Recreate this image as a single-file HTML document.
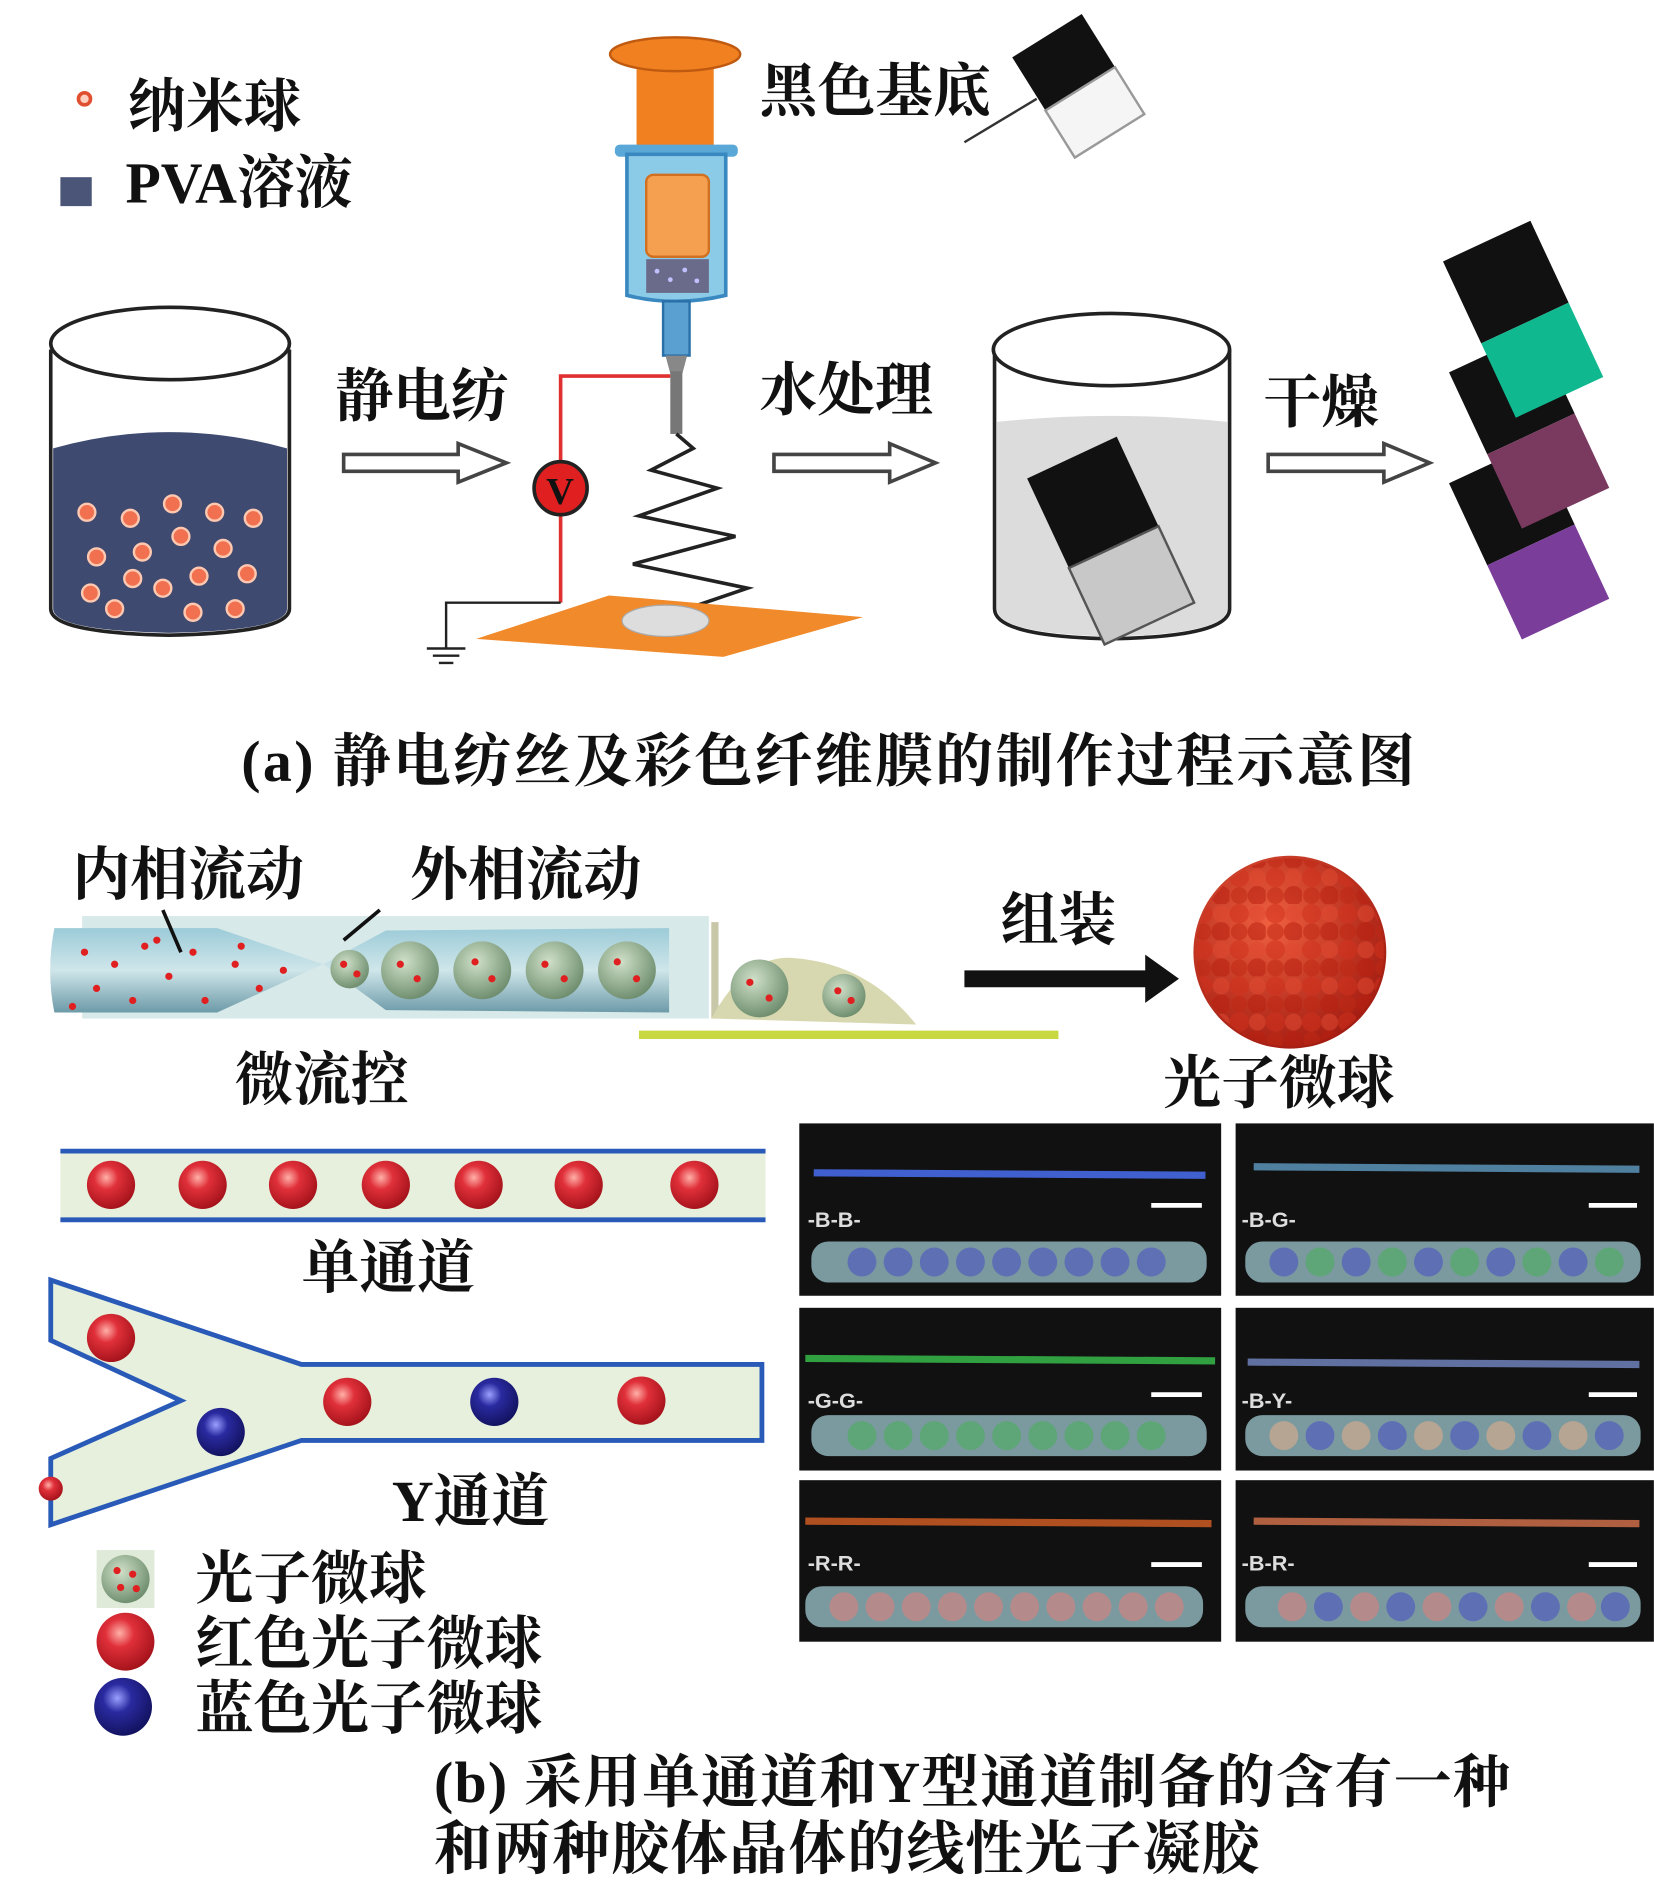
<!DOCTYPE html>
<html><head><meta charset="utf-8"><style>
html,body{margin:0;padding:0;background:#fff;}
svg{display:block;}
text{font-family:"Liberation Serif","Noto Serif CJK SC","Noto Sans CJK SC",serif;fill:#111;font-weight:bold;}
</style></head><body>
<svg width="1654" height="1890" viewBox="0 0 1372 1568" xmlns="http://www.w3.org/2000/svg">
<defs>
<radialGradient id="rb" cx="0.4" cy="0.35" r="0.7"><stop offset="0" stop-color="#ffb0a8"/><stop offset="0.35" stop-color="#e0303a"/><stop offset="1" stop-color="#a01018"/></radialGradient>
<radialGradient id="bb" cx="0.4" cy="0.35" r="0.7"><stop offset="0" stop-color="#9aa0ff"/><stop offset="0.35" stop-color="#2a2aa0"/><stop offset="1" stop-color="#10105a"/></radialGradient>
<radialGradient id="big" cx="0.4" cy="0.35" r="0.7"><stop offset="0" stop-color="#f06040"/><stop offset="1" stop-color="#a01a10"/></radialGradient>
<radialGradient id="gb" cx="0.4" cy="0.35" r="0.7"><stop offset="0" stop-color="#cfe0c8"/><stop offset="1" stop-color="#6a8a6a"/></radialGradient>
<linearGradient id="tube" x1="0" y1="0" x2="0" y2="1"><stop offset="0" stop-color="#9ccbd8"/><stop offset="0.5" stop-color="#cfe6ea"/><stop offset="1" stop-color="#6c9aa8"/></linearGradient>
<pattern id="dots" width="30" height="30" patternUnits="userSpaceOnUse"><circle cx="8" cy="8" r="8" fill="#d0301c"/><circle cx="23" cy="23" r="8" fill="#b82010"/><circle cx="23" cy="8" r="7" fill="#e04830"/><circle cx="8" cy="23" r="7" fill="#c02814"/></pattern>
</defs>

<circle cx="70" cy="82" r="5" fill="#ffd0c0" stroke="#e05030" stroke-width="3"/>
<text x="106" y="105" font-size="48">纳米球</text>
<rect x="50" y="147" width="26" height="24" fill="#4a5578"/>
<text x="104" y="168" font-size="48">PVA溶液</text>

<path d="M42,290 L42,505 Q42,525 140,527 Q240,525 240,505 L240,290" fill="#fff" stroke="#222" stroke-width="3"/>
<path d="M44,372 Q140,345 238,372 L238,505 Q238,523 140,525 Q44,523 44,505 Z" fill="#3f4a70"/>
<ellipse cx="141" cy="285" rx="99" ry="30" fill="#fff" stroke="#222" stroke-width="3"/>
<g fill="#f07050" stroke="#ffc8b0" stroke-width="2">
<circle cx="72" cy="425" r="7"/><circle cx="108" cy="430" r="7"/><circle cx="143" cy="418" r="7"/><circle cx="178" cy="425" r="7"/><circle cx="210" cy="430" r="7"/>
<circle cx="80" cy="462" r="7"/><circle cx="118" cy="458" r="7"/><circle cx="150" cy="445" r="7"/><circle cx="185" cy="455" r="7"/>
<circle cx="75" cy="492" r="7"/><circle cx="110" cy="480" r="7"/><circle cx="135" cy="488" r="7"/><circle cx="165" cy="478" r="7"/><circle cx="205" cy="476" r="7"/>
<circle cx="95" cy="505" r="7"/><circle cx="160" cy="508" r="7"/><circle cx="195" cy="505" r="7"/>
</g>

<g fill="#fff" stroke="#444" stroke-width="3">
<path d="M285,377 L380,377 L380,368 L420,384 L380,400 L380,391 L285,391 Z"/>
<path d="M642,377 L738,377 L738,368 L776,384 L738,400 L738,391 L642,391 Z"/>
<path d="M1052,377 L1148,377 L1148,368 L1186,384 L1148,400 L1148,391 L1052,391 Z"/>
</g>
<text x="278" y="345" font-size="48">静电纺</text>
<text x="630" y="340" font-size="48">水处理</text>
<text x="1048" y="350" font-size="48">干燥</text>
<text x="630" y="92" font-size="48">黑色基底</text>

<rect x="528" y="55" width="64" height="70" fill="#f08020"/>
<ellipse cx="560" cy="45" rx="54" ry="14" fill="#f08020" stroke="#c05a10" stroke-width="2"/>
<rect x="510" y="120" width="102" height="10" rx="4" fill="#5aa8d8"/>
<path d="M520,128 L602,128 L602,245 Q560,255 520,245 Z" fill="#8ccbe8" stroke="#3a88c0" stroke-width="3"/>
<rect x="536" y="145" width="52" height="68" rx="6" fill="#f5a050" stroke="#d07020" stroke-width="2"/>
<rect x="536" y="215" width="52" height="28" fill="#6a6a8a"/>
<g fill="#c0c0ff"><circle cx="545" cy="225" r="2"/><circle cx="556" cy="232" r="2"/><circle cx="568" cy="224" r="2"/><circle cx="578" cy="233" r="2"/></g>
<rect x="550" y="250" width="22" height="45" fill="#5aa0d0" stroke="#2a70a8" stroke-width="2"/>
<path d="M552,295 L570,295 L566,310 L556,310 Z" fill="#888"/>
<rect x="556" y="308" width="10" height="52" fill="#777"/>
<path d="M561,360 L575,372 L540,390 L595,405 L530,428 L610,445 L525,468 L620,488 L570,505" fill="none" stroke="#222" stroke-width="3"/>
<polyline points="556,312 465,312 465,383" fill="none" stroke="#e03030" stroke-width="3"/>
<line x1="465" y1="427" x2="465" y2="500" stroke="#e03030" stroke-width="3"/>
<circle cx="465" cy="405" r="22" fill="#e02020" stroke="#222" stroke-width="3"/>
<text x="453" y="418" font-size="32">V</text>
<polyline points="465,500 370,500 370,538" fill="none" stroke="#222" stroke-width="2"/>
<line x1="354" y1="538" x2="386" y2="538" stroke="#222" stroke-width="2"/>
<line x1="359" y1="544" x2="381" y2="544" stroke="#222" stroke-width="2"/>
<line x1="364" y1="550" x2="376" y2="550" stroke="#222" stroke-width="2"/>
<path d="M395,530 L505,494 L716,512 L600,545 Z" fill="#f08a2a"/>
<ellipse cx="552" cy="515" rx="36" ry="13" fill="#ddd" stroke="#aaa"/>
<g transform="translate(895,72) rotate(-32)">
<rect x="-34" y="-50" width="68" height="52" fill="#111"/>
<rect x="-34" y="2" width="68" height="46" fill="#f5f5f5" stroke="#999" stroke-width="2"/>
</g>
<line x1="800" y1="118" x2="860" y2="82" stroke="#333" stroke-width="2"/>

<path d="M825,290 L825,505 Q825,528 922,530 Q1020,528 1020,505 L1020,290" fill="#fff" stroke="#222" stroke-width="3"/>
<path d="M827,350 Q922,340 1018,350 L1018,505 Q1018,526 922,528 Q827,526 827,505 Z" fill="#dcdcdc"/>
<ellipse cx="922" cy="290" rx="98" ry="30" fill="#fff" stroke="#222" stroke-width="3"/>
<g transform="translate(920,448) rotate(-25)">
<rect x="-40" y="-75" width="82" height="82" fill="#111"/>
<rect x="-40" y="7" width="82" height="70" fill="#c8c8c8" stroke="#555" stroke-width="2"/>
</g>

<g transform="translate(1270,452) rotate(-25)"><rect x="-40" y="-75" width="80" height="75" fill="#111"/><rect x="-40" y="0" width="80" height="68" fill="#7a3e9a"/></g>
<g transform="translate(1270,360) rotate(-25)"><rect x="-40" y="-75" width="80" height="75" fill="#111"/><rect x="-40" y="0" width="80" height="68" fill="#7a3a60"/></g>
<g transform="translate(1265,268) rotate(-25)"><rect x="-40" y="-75" width="80" height="75" fill="#111"/><rect x="-40" y="0" width="80" height="68" fill="#10b890"/></g>

<text x="200" y="648" font-size="48" letter-spacing="2">(a) 静电纺丝及彩色纤维膜的制作过程示意图</text>

<text x="60" y="742" font-size="48">内相流动</text>
<text x="340" y="742" font-size="48">外相流动</text>
<rect x="68" y="760" width="520" height="85" fill="#c8e0e0" opacity="0.7"/>
<rect x="590" y="765" width="6" height="80" fill="#c8c8a8"/>
<path d="M45,770 L180,770 L268,800 L180,840 L45,840 Q38,805 45,770 Z" fill="url(#tube)"/>
<path d="M268,800 L320,772 L555,770 L555,840 L320,838 Z" fill="url(#tube)"/>
<path d="M530,855 L878,855 L878,862 L530,862 Z" fill="#c8d840"/>
<path d="M590,845 Q620,790 660,795 Q720,800 760,850 Z" fill="#d8d8b0"/>
<g>
<circle cx="340" cy="805" r="24" fill="url(#gb)"/><circle cx="400" cy="805" r="24" fill="url(#gb)"/><circle cx="460" cy="805" r="24" fill="url(#gb)"/><circle cx="520" cy="805" r="24" fill="url(#gb)"/>
<circle cx="290" cy="804" r="16" fill="url(#gb)"/>
<circle cx="630" cy="820" r="24" fill="url(#gb)"/><circle cx="700" cy="826" r="18" fill="url(#gb)"/>
</g>
<g fill="#e02020">
<circle cx="70" cy="790" r="3"/><circle cx="95" cy="800" r="3"/><circle cx="120" cy="785" r="3"/><circle cx="80" cy="820" r="3"/><circle cx="110" cy="830" r="3"/><circle cx="140" cy="810" r="3"/><circle cx="160" cy="790" r="3"/><circle cx="170" cy="830" r="3"/><circle cx="195" cy="800" r="3"/><circle cx="215" cy="820" r="3"/><circle cx="235" cy="805" r="3"/><circle cx="60" cy="835" r="3"/><circle cx="130" cy="780" r="3"/><circle cx="200" cy="785" r="3"/>
<circle cx="332" cy="800" r="3"/><circle cx="346" cy="812" r="3"/><circle cx="394" cy="798" r="3"/><circle cx="408" cy="812" r="3"/><circle cx="452" cy="800" r="3"/><circle cx="468" cy="812" r="3"/><circle cx="512" cy="798" r="3"/><circle cx="528" cy="812" r="3"/><circle cx="285" cy="800" r="3"/><circle cx="296" cy="808" r="3"/><circle cx="622" cy="815" r="3"/><circle cx="638" cy="828" r="3"/><circle cx="695" cy="822" r="3"/><circle cx="706" cy="830" r="3"/>
</g>
<line x1="135" y1="755" x2="150" y2="790" stroke="#111" stroke-width="3"/>
<line x1="315" y1="755" x2="285" y2="780" stroke="#111" stroke-width="3"/>
<text x="830" y="780" font-size="48">组装</text>
<path d="M800,805 L950,805 L950,792 L978,812 L950,832 L950,819 L800,819 Z" fill="#111"/>
<circle cx="1070" cy="790" r="80" fill="url(#big)"/>
<circle cx="1070" cy="790" r="78" fill="url(#dots)" opacity="0.55"/>
<text x="195" y="912" font-size="48">微流控</text>
<text x="965" y="915" font-size="48">光子微球</text>

<rect x="50" y="955" width="585" height="57" fill="#e6f0dc"/>
<line x1="50" y1="955" x2="635" y2="955" stroke="#2a5ab8" stroke-width="4"/>
<line x1="50" y1="1012" x2="635" y2="1012" stroke="#2a5ab8" stroke-width="4"/>
<g fill="url(#rb)"><circle cx="92" cy="983" r="20"/><circle cx="168" cy="983" r="20"/><circle cx="243" cy="983" r="20"/><circle cx="320" cy="983" r="20"/><circle cx="397" cy="983" r="20"/><circle cx="480" cy="983" r="20"/><circle cx="576" cy="983" r="20"/></g>
<text x="250" y="1068" font-size="48">单通道</text>

<path d="M42,1062 L250,1132 L632,1132 L632,1195 L250,1195 L42,1265 L42,1210 L150,1162 L42,1112 Z" fill="#e6f0dc" stroke="#2a5ab8" stroke-width="4"/>
<g fill="url(#rb)"><circle cx="92" cy="1110" r="20"/><circle cx="288" cy="1163" r="20"/><circle cx="532" cy="1162" r="20"/><circle cx="42" cy="1235" r="10"/></g>
<g fill="url(#bb)"><circle cx="183" cy="1188" r="20"/><circle cx="410" cy="1163" r="20"/></g>
<text x="325" y="1262" font-size="48">Y通道</text>

<rect x="80" y="1286" width="48" height="48" fill="#e0ead8"/>
<circle cx="104" cy="1310" r="20" fill="url(#gb)"/>
<g fill="#e02020"><circle cx="97" cy="1303" r="3"/><circle cx="110" cy="1306" r="3"/><circle cx="100" cy="1317" r="3"/><circle cx="113" cy="1318" r="3"/></g>
<circle cx="104" cy="1362" r="24" fill="url(#rb)"/>
<circle cx="102" cy="1416" r="24" fill="url(#bb)"/>
<text x="162" y="1326" font-size="48">光子微球</text>
<text x="162" y="1380" font-size="48">红色光子微球</text>
<text x="162" y="1434" font-size="48">蓝色光子微球</text>

<g>
<rect x="663" y="932" width="350" height="143" fill="#111"/>
<rect x="1025" y="932" width="347" height="143" fill="#111"/>
<rect x="663" y="1085" width="350" height="135" fill="#111"/>
<rect x="1025" y="1085" width="347" height="135" fill="#111"/>
<rect x="663" y="1228" width="350" height="134" fill="#111"/>
<rect x="1025" y="1228" width="347" height="134" fill="#111"/>
<g stroke-width="6">
<line x1="675" y1="973" x2="1000" y2="975" stroke="#4060d0"/>
<line x1="1040" y1="968" x2="1360" y2="970" stroke="#5080a0"/>
<line x1="668" y1="1127" x2="1008" y2="1129" stroke="#30a040"/>
<line x1="1035" y1="1130" x2="1360" y2="1132" stroke="#6070a0"/>
<line x1="668" y1="1262" x2="1005" y2="1264" stroke="#b05020"/>
<line x1="1040" y1="1262" x2="1360" y2="1264" stroke="#b06040"/>
</g>
<g stroke="#fff" stroke-width="4"><line x1="955" y1="1000" x2="997" y2="1000"/><line x1="1318" y1="1000" x2="1358" y2="1000"/><line x1="955" y1="1157" x2="997" y2="1157"/><line x1="1318" y1="1157" x2="1358" y2="1157"/><line x1="955" y1="1298" x2="997" y2="1298"/><line x1="1318" y1="1298" x2="1358" y2="1298"/></g>
<g font-family="Liberation Sans,sans-serif" font-size="18">
<text x="670" y="1018" style="fill:#ddd;font-family:'Liberation Sans',sans-serif">-B-B-</text><text x="1030" y="1018" style="fill:#ddd;font-family:'Liberation Sans',sans-serif">-B-G-</text>
<text x="670" y="1168" style="fill:#ddd;font-family:'Liberation Sans',sans-serif">-G-G-</text><text x="1030" y="1168" style="fill:#ddd;font-family:'Liberation Sans',sans-serif">-B-Y-</text>
<text x="670" y="1303" style="fill:#ddd;font-family:'Liberation Sans',sans-serif">-R-R-</text><text x="1030" y="1303" style="fill:#ddd;font-family:'Liberation Sans',sans-serif">-B-R-</text>
</g>
<g fill="#7a9aa0"><rect x="673" y="1030" width="328" height="34" rx="14"/><rect x="1033" y="1030" width="328" height="34" rx="14"/><rect x="673" y="1174" width="328" height="34" rx="14"/><rect x="1033" y="1174" width="328" height="34" rx="14"/><rect x="668" y="1316" width="330" height="34" rx="14"/><rect x="1033" y="1316" width="328" height="34" rx="14"/></g>
<g fill="#5a68b8" opacity="0.85"><circle cx="715" cy="1047" r="12"/><circle cx="745" cy="1047" r="12"/><circle cx="775" cy="1047" r="12"/><circle cx="805" cy="1047" r="12"/><circle cx="835" cy="1047" r="12"/><circle cx="865" cy="1047" r="12"/><circle cx="895" cy="1047" r="12"/><circle cx="925" cy="1047" r="12"/><circle cx="955" cy="1047" r="12"/></g>
<g opacity="0.85"><circle cx="1065" cy="1047" r="12" fill="#5a68b8"/><circle cx="1095" cy="1047" r="12" fill="#5aa870"/><circle cx="1125" cy="1047" r="12" fill="#5a68b8"/><circle cx="1155" cy="1047" r="12" fill="#5aa870"/><circle cx="1185" cy="1047" r="12" fill="#5a68b8"/><circle cx="1215" cy="1047" r="12" fill="#5aa870"/><circle cx="1245" cy="1047" r="12" fill="#5a68b8"/><circle cx="1275" cy="1047" r="12" fill="#5aa870"/><circle cx="1305" cy="1047" r="12" fill="#5a68b8"/><circle cx="1335" cy="1047" r="12" fill="#5aa870"/></g>
<g fill="#5aa870" opacity="0.85"><circle cx="715" cy="1191" r="12"/><circle cx="745" cy="1191" r="12"/><circle cx="775" cy="1191" r="12"/><circle cx="805" cy="1191" r="12"/><circle cx="835" cy="1191" r="12"/><circle cx="865" cy="1191" r="12"/><circle cx="895" cy="1191" r="12"/><circle cx="925" cy="1191" r="12"/><circle cx="955" cy="1191" r="12"/></g>
<g opacity="0.85"><circle cx="1065" cy="1191" r="12" fill="#c0a890"/><circle cx="1095" cy="1191" r="12" fill="#5a68b8"/><circle cx="1125" cy="1191" r="12" fill="#c0a890"/><circle cx="1155" cy="1191" r="12" fill="#5a68b8"/><circle cx="1185" cy="1191" r="12" fill="#c0a890"/><circle cx="1215" cy="1191" r="12" fill="#5a68b8"/><circle cx="1245" cy="1191" r="12" fill="#c0a890"/><circle cx="1275" cy="1191" r="12" fill="#5a68b8"/><circle cx="1305" cy="1191" r="12" fill="#c0a890"/><circle cx="1335" cy="1191" r="12" fill="#5a68b8"/></g>
<g fill="#c08888" opacity="0.85"><circle cx="700" cy="1333" r="12"/><circle cx="730" cy="1333" r="12"/><circle cx="760" cy="1333" r="12"/><circle cx="790" cy="1333" r="12"/><circle cx="820" cy="1333" r="12"/><circle cx="850" cy="1333" r="12"/><circle cx="880" cy="1333" r="12"/><circle cx="910" cy="1333" r="12"/><circle cx="940" cy="1333" r="12"/><circle cx="970" cy="1333" r="12"/></g>
<g opacity="0.85"><circle cx="1072" cy="1333" r="12" fill="#c08888"/><circle cx="1102" cy="1333" r="12" fill="#5a68b8"/><circle cx="1132" cy="1333" r="12" fill="#c08888"/><circle cx="1162" cy="1333" r="12" fill="#5a68b8"/><circle cx="1192" cy="1333" r="12" fill="#c08888"/><circle cx="1222" cy="1333" r="12" fill="#5a68b8"/><circle cx="1252" cy="1333" r="12" fill="#c08888"/><circle cx="1282" cy="1333" r="12" fill="#5a68b8"/><circle cx="1312" cy="1333" r="12" fill="#c08888"/><circle cx="1340" cy="1333" r="12" fill="#5a68b8"/></g>
</g>

<text x="360" y="1495" font-size="48" letter-spacing="1">(b) 采用单通道和Y型通道制备的含有一种</text>
<text x="360" y="1550" font-size="48" letter-spacing="1">和两种胶体晶体的线性光子凝胶</text>
</svg>
</body></html>
